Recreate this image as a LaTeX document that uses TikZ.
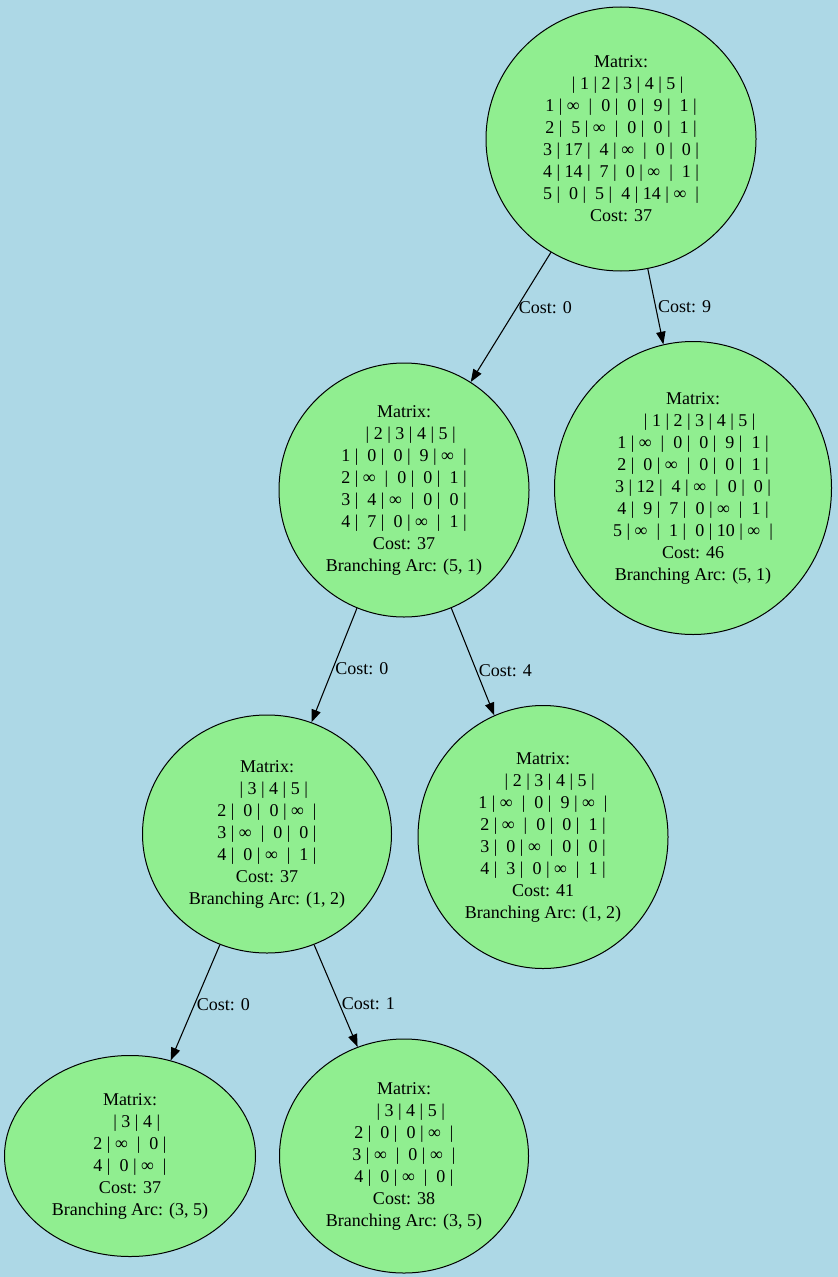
\documentclass[tikz,border=0pt]{standalone}
\usepackage{fontspec}
\setmainfont{Liberation Serif}
\usetikzlibrary{shapes.geometric,arrows.meta}

\definecolor{bgblue}{HTML}{ADD8E6}
\definecolor{nodegreen}{HTML}{90EE90}

% one matrix row, spaces kept
\newcommand\mr[1]{\mbox{#1}\\}

\tikzset{
  bbnode/.style 2 args={ellipse, draw=black, fill=nodegreen, line width=0.75pt,
    inner sep=0pt, align=center, minimum width=#1*0.75pt, minimum height=#2*0.75pt,
    font=\fontsize{13.5}{16.5}\selectfont},
  costlbl/.style={right, inner sep=1.5pt, font=\fontsize{13.5}{16.5}\selectfont},
  arc/.style={line width=0.8pt, -{Triangle[length=9.5pt,width=7pt]}}
}

\begin{document}
\begin{tikzpicture}[x=0.75pt, y=-0.75pt]
  \fill[bgblue] (0,0) rectangle (838,1277);
  \useasboundingbox (0,0) rectangle (838,1277);

  % root
  \node[bbnode={270}{264}] (root) at (621,139) {Matrix:\\
    \mr{~~~|~1~|~2~|~3~|~4~|~5~|}
    \mr{1~|~∞~~|~~0~|~~0~|~~9~|~~1~|}
    \mr{2~|~~5~|~∞~~|~~0~|~~0~|~~1~|}
    \mr{3~|~17~|~~4~|~∞~~|~~0~|~~0~|}
    \mr{4~|~14~|~~7~|~~0~|~∞~~|~~1~|}
    \mr{5~|~~0~|~~5~|~~4~|~14~|~∞~~|}
    Cost: 37};

  % level 1
  \node[bbnode={250}{254}] (inc51) at (404,490) {Matrix:\\
    \mr{~~~|~2~|~3~|~4~|~5~|}
    \mr{1~|~~0~|~~0~|~~9~|~∞~~|}
    \mr{2~|~∞~~|~~0~|~~0~|~~1~|}
    \mr{3~|~~4~|~∞~~|~~0~|~~0~|}
    \mr{4~|~~7~|~~0~|~∞~~|~~1~|}
    Cost: 37\\Branching Arc: (5, 1)};
  \node[bbnode={277}{293}] (exc51) at (693,488) {Matrix:\\
    \mr{~~~|~1~|~2~|~3~|~4~|~5~|}
    \mr{1~|~∞~~|~~0~|~~0~|~~9~|~~1~|}
    \mr{2~|~~0~|~∞~~|~~0~|~~0~|~~1~|}
    \mr{3~|~12~|~~4~|~∞~~|~~0~|~~0~|}
    \mr{4~|~~9~|~~7~|~~0~|~∞~~|~~1~|}
    \mr{5~|~∞~~|~~1~|~~0~|~10~|~∞~~|}
    Cost: 46\\Branching Arc: (5, 1)};

  % level 2
  \node[bbnode={249}{238}] (inc12) at (267,834) {Matrix:\\
    \mr{~~~|~3~|~4~|~5~|}
    \mr{2~|~~0~|~~0~|~∞~~|}
    \mr{3~|~∞~~|~~0~|~~0~|}
    \mr{4~|~~0~|~∞~~|~~1~|}
    Cost: 37\\Branching Arc: (1, 2)};
  \node[bbnode={250}{263}] (exc12) at (543,837) {Matrix:\\
    \mr{~~~|~2~|~3~|~4~|~5~|}
    \mr{1~|~∞~~|~~0~|~~9~|~∞~~|}
    \mr{2~|~∞~~|~~0~|~~0~|~~1~|}
    \mr{3~|~~0~|~∞~~|~~0~|~~0~|}
    \mr{4~|~~3~|~~0~|~∞~~|~~1~|}
    Cost: 41\\Branching Arc: (1, 2)};

  % level 3
  \node[bbnode={251}{201}] (inc35) at (130,1156) {Matrix:\\
    \mr{~~~|~3~|~4~|}
    \mr{2~|~∞~~|~~0~|}
    \mr{4~|~~0~|~∞~~|}
    Cost: 37\\Branching Arc: (3, 5)};
  \node[bbnode={249}{234}] (exc35) at (404,1156) {Matrix:\\
    \mr{~~~|~3~|~4~|~5~|}
    \mr{2~|~~0~|~~0~|~∞~~|}
    \mr{3~|~∞~~|~~0~|~∞~~|}
    \mr{4~|~~0~|~∞~~|~~0~|}
    Cost: 38\\Branching Arc: (3, 5)};

  \draw[arc] (root) -- node[costlbl, pos=0.43] {Cost: 0} (inc51);
  \draw[arc] (root) -- node[costlbl, pos=0.5] {Cost: 9} (exc51);
  \draw[arc] (inc51) -- node[costlbl, pos=0.53] {Cost: 0} (inc12);
  \draw[arc] (inc51) -- node[costlbl, pos=0.58] {Cost: 4} (exc12);
  \draw[arc] (inc12) -- node[costlbl, pos=0.52] {Cost: 0} (inc35);
  \draw[arc] (inc12) -- node[costlbl, pos=0.58] {Cost: 1} (exc35);
\end{tikzpicture}
\end{document}
